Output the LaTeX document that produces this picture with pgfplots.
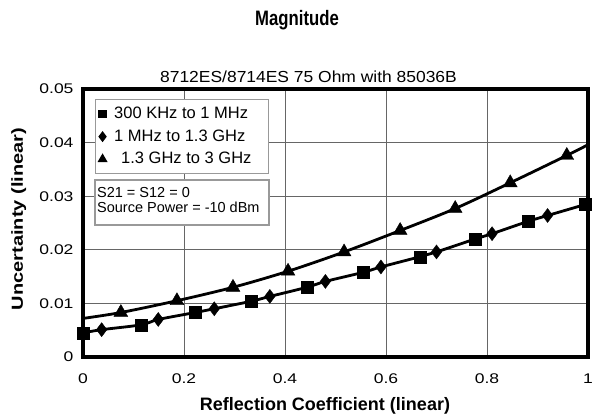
\documentclass[border=0pt]{standalone}
\usepackage{pgfplots}
\pgfplotsset{compat=1.18}
\usepackage{fontspec}
\setmainfont{Liberation Sans}
\usepackage{graphicx}
\newcommand\sx[1]{\scalebox{1.25}[1]{#1}}
\begin{document}
\begin{tikzpicture}
\useasboundingbox (-83pt,-61pt) rectangle (511pt,357pt);
\begin{axis}[
  at={(0,0)}, anchor=south west,
  scale only axis, width=505pt, height=268pt,
  xmin=0, xmax=1, ymin=0, ymax=0.05,
  scaled y ticks=false, scaled x ticks=false,
  xtick={0,0.2,0.4,0.6,0.8,1},
  xticklabels={\sx{0},\sx{0.2},\sx{0.4},\sx{0.6},\sx{0.8},\sx{1}},
  ytick={0,0.01,0.02,0.03,0.04,0.05},
  yticklabels={\sx{0},\sx{0.01},\sx{0.02},\sx{0.03},\sx{0.04},\sx{0.05}},
  tick label style={font=\fontsize{14}{14}\selectfont},
  xticklabel style={anchor=center, yshift=-22pt},
  yticklabel style={anchor=east, xshift=-6pt},
  major tick length=0pt,
  grid=major,
  major grid style={draw=black!60, line width=0.9pt},
  axis line style={line width=3.2pt},
  legend cell align=left,
  legend style={at={(0.0238,0.9627)}, anchor=north west, draw=black!40, line width=1.3pt, fill=white,
     font=\fontsize{16.5}{18}\selectfont, inner xsep=3pt, inner ysep=5pt, row sep=3.5pt,
     nodes={text height=12pt, text depth=3pt, inner sep=2pt}},
  legend image code/.code={\path (-3pt,0pt) (9pt,0pt); \draw[#1] plot coordinates {(0pt,0pt)};},
]
% connecting lines
\addplot[forget plot, black, line width=2.8pt, smooth] coordinates {
(0,0.0072)(0.075,0.0083)(0.186,0.0105)(0.297,0.0130)(0.406,0.0160)(0.517,0.0196)(0.628,0.0236)(0.737,0.0277)(0.846,0.0325)(0.958,0.0376)(1.0,0.0396)};
\addplot[forget plot, black, line width=2.8pt, smooth] coordinates {
(0,0.0045)(0.037,0.0051)(0.115,0.0060)(0.149,0.0070)(0.222,0.0083)(0.26,0.0090)(0.333,0.0104)(0.370,0.0113)(0.443,0.0130)(0.48,0.0141)(0.555,0.0158)(0.59,0.0168)(0.667,0.0187)(0.70,0.0196)(0.776,0.0220)(0.81,0.0230)(0.881,0.0253)(0.92,0.0264)(1.0,0.0286)};
% markers
\addplot[only marks, mark=square*, mark size=6pt, black, legend image post style={mark size=3.5pt}] coordinates {
(0,0.0045)(0.115,0.0060)(0.222,0.0083)(0.333,0.0104)(0.443,0.0130)(0.555,0.0158)(0.667,0.0187)(0.776,0.0220)(0.881,0.0253)(0.994,0.0286)};
\addlegendentry{300 KHz to 1 MHz}
\addplot[only marks, mark=diamond*, mark size=7pt, black, legend image post style={mark size=4.5pt}] coordinates {
(0.037,0.0051)(0.149,0.0070)(0.26,0.0090)(0.370,0.0113)(0.48,0.0141)(0.59,0.0168)(0.70,0.0196)(0.81,0.0230)(0.92,0.0264)};
\addlegendentry{1 MHz to 1.3 GHz}
\addplot[only marks, mark=triangle*, mark size=8pt, black, legend image post style={mark size=4.5pt}] coordinates {
(0.075,0.0083)(0.186,0.0105)(0.297,0.0130)(0.406,0.0160)(0.517,0.0196)(0.628,0.0236)(0.737,0.0277)(0.846,0.0325)(0.958,0.0376)};
\addlegendentry{\hspace{7pt}1.3 GHz to 3 GHz\rule{12pt}{0pt}}
\draw[black!40, line width=1.3pt, fill=white] (axis description cs:0.0238,0.6604) rectangle (axis description cs:0.3683,0.4925);
\node[anchor=base west, font=\fontsize{14.5}{17}\selectfont, inner sep=0pt] at (axis description cs:0.0277,0.5970) {S21 = S12 = 0};
\node[anchor=base west, font=\fontsize{14.5}{17}\selectfont, inner sep=0pt] at (axis description cs:0.0277,0.5410) {Source Power = -10 dBm};
\end{axis}
\node[anchor=base, font=\fontsize{19}{19}\selectfont\bfseries, inner sep=0pt] at (214pt,331pt) {\scalebox{0.88}[1.1]{Magnitude}};
\node[anchor=base, font=\fontsize{16}{16}\selectfont, inner sep=0pt] at (225.5pt,274pt) {\scalebox{1.09}[1]{8712ES/8714ES 75 Ohm with 85036B}};
\node[anchor=base, font=\fontsize{18}{18}\selectfont\bfseries, inner sep=0pt] at (242pt,-53pt) {Reflection Coefficient (linear)};
\node[rotate=90, anchor=base, font=\fontsize{16}{16}\selectfont\bfseries, inner sep=0pt] at (-60pt,138pt) {\scalebox{1.25}[1]{Uncertainty (linear)}};
\end{tikzpicture}
\end{document}
